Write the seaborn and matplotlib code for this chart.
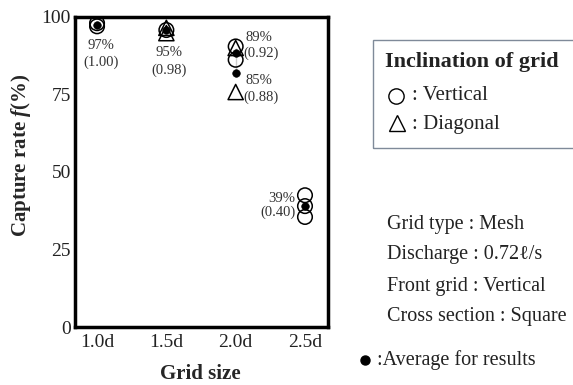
import matplotlib
matplotlib.use("Agg")
import matplotlib.pyplot as plt
from matplotlib.lines import Line2D
from matplotlib.patches import Rectangle
import seaborn as sns
import pandas as pd

# grid size categories and their numeric positions
size_labels = ['1.0d', '1.5d', '2.0d', '2.5d']
size_pos = [1.0, 1.5, 2.0, 2.5]

# vertical grid (circles)
vert_x = [1.0, 1.0, 1.5, 2.0, 2.0, 2.5, 2.5, 2.5]
vert_y = [98.0, 97.0, 95.8, 90.5, 86.2, 42.5, 39.0, 35.5]

# diagonal grid (triangles)
diag_x = [1.5, 1.5, 2.0, 2.0]
diag_y = [96.5, 94.8, 90.0, 75.8]

# averages (filled dots)
avg_x = [1.0, 1.5, 2.0, 2.0, 2.5]
avg_y = [97.4, 95.8, 88.4, 82.0, 39.0]

# annotation texts
ann_pct = ['97%', '95%', '89%', '85%', '39%']
ann_ratio = ['(1.00)', '(0.98)', '(0.92)', '(0.88)', '(0.40)']

sns.set_style("white")
plt.rcParams['font.family'] = ['Liberation Serif', 'DejaVu Serif']
plt.rcParams['mathtext.fontset'] = 'custom'
plt.rcParams['mathtext.it'] = 'Liberation Serif:italic:bold'
plt.rcParams['mathtext.rm'] = 'Liberation Serif:bold'

vert = pd.DataFrame({'x': vert_x, 'y': vert_y})
diag = pd.DataFrame({'x': diag_x, 'y': diag_y})
avg = pd.DataFrame({'x': avg_x, 'y': avg_y})

fig = plt.figure(figsize=(5.73, 3.85), dpi=100)
ax = fig.add_axes([75 / 573, 1 - 327 / 385, 253 / 573, 310 / 385])

# dotted link between the averages at 2.0d
sns.lineplot(x=[2.0, 2.0], y=[diag_y[2], avg_y[3]], ax=ax,
             color='black', linestyle=':', linewidth=1.2)
sns.scatterplot(data=vert, x='x', y='y', ax=ax, marker='o', s=110,
                facecolors='none', edgecolor='black', linewidth=1.1)
sns.scatterplot(data=diag, x='x', y='y', ax=ax, marker='^', s=120,
                facecolors='none', edgecolor='black', linewidth=1.1)
sns.scatterplot(data=avg, x='x', y='y', ax=ax, marker='o', s=30,
                color='black', edgecolor='black')

# value annotations
tc = '#333333'
fs = 10.5
ax.text(1.03, 90.8, ann_pct[0], ha='center', va='center', fontsize=fs, color=tc)
ax.text(1.03, 85.5, ann_ratio[0], ha='center', va='center', fontsize=fs, color=tc)
ax.text(1.52, 88.7, ann_pct[1], ha='center', va='center', fontsize=fs, color=tc)
ax.text(1.52, 82.9, ann_ratio[1], ha='center', va='center', fontsize=fs, color=tc)
ax.text(2.07, 93.5, ann_pct[2], ha='left', va='center', fontsize=fs, color=tc)
ax.text(2.055, 88.4, ann_ratio[2], ha='left', va='center', fontsize=fs, color=tc)
ax.text(2.07, 79.6, ann_pct[3], ha='left', va='center', fontsize=fs, color=tc)
ax.text(2.055, 74.2, ann_ratio[3], ha='left', va='center', fontsize=fs, color=tc)
ax.text(2.43, 41.6, ann_pct[4], ha='right', va='center', fontsize=fs, color=tc)
ax.text(2.43, 37.0, ann_ratio[4], ha='right', va='center', fontsize=fs, color=tc)

ax.set_xlim(0.841, 2.666)
ax.set_ylim(0, 100)
ax.set_xticks(size_pos)
ax.set_xticklabels(size_labels)
ax.set_yticks([0, 25, 50, 75, 100])
ax.tick_params(direction='in', length=5, width=2, labelsize=14,
               labelcolor='#222222', pad=5)
ax.tick_params(axis='y', pad=3)
for sp in ax.spines.values():
    sp.set_linewidth(2.5)
    sp.set_color('black')
ax.set_xlabel('Grid size', fontsize=15, fontweight='bold')
ax.set_ylabel('Capture rate $f$(%)', fontsize=15, fontweight='bold')
ax.xaxis.set_label_coords((200 - 75) / 253, -(374 - 327) / 310)
ax.xaxis.label.set_va('center')
ax.yaxis.set_label_coords(-(75 - 21) / 253, (327 - 155) / 310)
ax.yaxis.label.set_va('center')

# legend box for grid inclination
fig.patches.append(Rectangle((373 / 573, 1 - 148 / 385), 205 / 573, 108 / 385,
                             transform=fig.transFigure, fill=False,
                             edgecolor='#7f8a99', linewidth=1.0))
fig.text(385 / 573, 1 - 62 / 385, 'Inclination of grid', fontsize=16,
         fontweight='bold', va='center', color='#222222')
fig.add_artist(Line2D([395.5 / 573], [1 - 96 / 385], marker='o', markersize=11,
                      markerfacecolor='none', markeredgecolor='black',
                      markeredgewidth=1.0, transform=fig.transFigure))
fig.add_artist(Line2D([397 / 573], [1 - 123 / 385], marker='^', markersize=11,
                      markerfacecolor='none', markeredgecolor='black',
                      markeredgewidth=1.0, transform=fig.transFigure))
fig.text(412 / 573, 1 - 96 / 385, ': Vertical', fontsize=15, va='center',
         color='#222222')
fig.text(412 / 573, 1 - 124 / 385, ': Diagonal', fontsize=15, va='center',
         color='#222222')

# conditions
conds = ['Grid type : Mesh', 'Discharge : 0.72\u2113/s',
         'Front grid : Vertical', 'Cross section : Square']
for i, c in enumerate(conds):
    fig.text(387 / 573, 1 - (224 + 31 * i) / 385, c, fontsize=14.5,
             va='center', color='#222222')
fig.add_artist(Line2D([365 / 573], [1 - 360 / 385], marker='o', markersize=6.5,
                      color='black', transform=fig.transFigure))
fig.text(377 / 573, 1 - 360 / 385, ':Average for results', fontsize=14.5,
         va='center', color='#222222')

fig.savefig('out.png', dpi=100)
